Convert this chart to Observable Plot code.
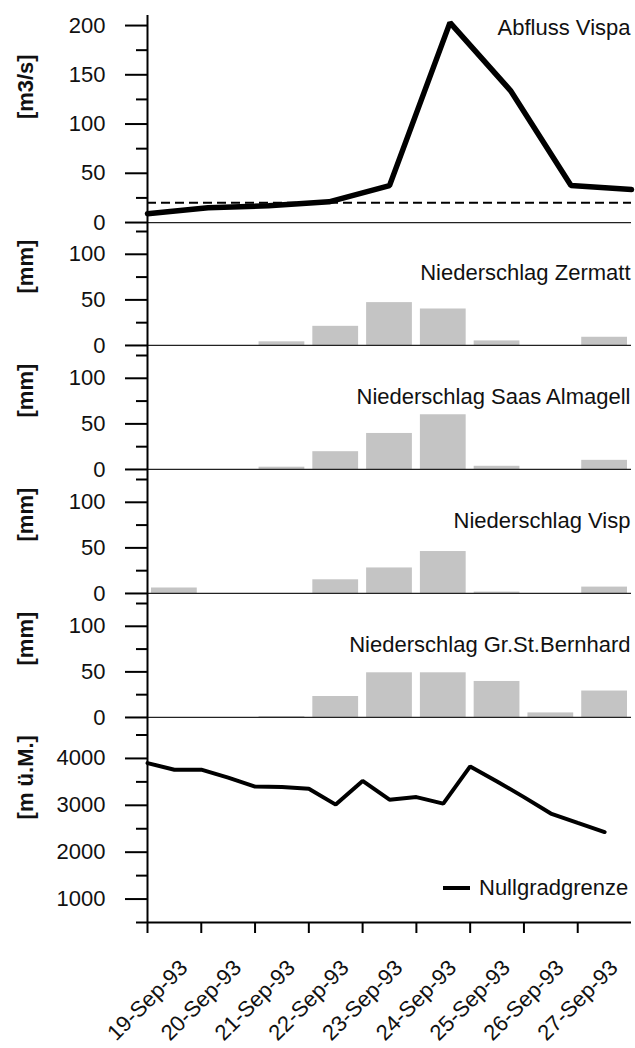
<!DOCTYPE html>
<html><head><meta charset="utf-8">
<script src="https://cdn.jsdelivr.net/npm/d3@7"></script>
<script src="https://cdn.jsdelivr.net/npm/@observablehq/plot@0.6"></script>
<style>
body{margin:0;background:#fff;}
#chart{position:relative;width:635px;height:1048px;font-family:"Liberation Sans",Arial,sans-serif;color:#000;}
#chart svg{display:block;overflow:visible;background:transparent;}
#legend{position:absolute;left:443px;top:876px;height:24px;display:flex;align-items:center;font-size:22px;color:#111;white-space:nowrap;}
#legend .sw{display:inline-block;width:27px;height:4px;background:#000;margin-right:9px;}
</style></head><body><div id="chart"></div>
<script>
// ---- data ----
const days = ["1993-09-19","1993-09-20","1993-09-21","1993-09-22","1993-09-23","1993-09-24","1993-09-25","1993-09-26","1993-09-27"];
const dayLabels = ["19-Sep-93","20-Sep-93","21-Sep-93","22-Sep-93","23-Sep-93","24-Sep-93","25-Sep-93","26-Sep-93","27-Sep-93"];

const abflussTitle = "Abfluss Vispa";
const abflussUnit = "[m3/s]";
const abflussValues = [9, 15, 17, 21, 37.5, 203, 134, 37.5, 33.5];
const abflussReference = 20;

const rainUnit = "[mm]";
const rainZermatt = [0, 0, 4, 21, 47, 40, 5, 0, 9];
const rainSaas = [0, 0, 2.5, 19.5, 39.5, 60, 3.5, 0, 10];
const rainVisp = [6, 0, 0, 15, 28, 46, 1.5, 0, 7];
const rainBernhard = [0, 0, 1, 23, 49, 49, 39.5, 5, 29];
const rainTitles = ["Niederschlag Zermatt", "Niederschlag Saas Almagell", "Niederschlag Visp", "Niederschlag Gr.St.Bernhard"];

const nullTitle = "Nullgradgrenze";
const nullUnit = "[m ü.M.]";
const nullTimes = ["1993-09-19T00:00Z","1993-09-19T12:00Z","1993-09-20T00:00Z","1993-09-20T12:00Z","1993-09-21T00:00Z","1993-09-21T12:00Z","1993-09-22T00:00Z","1993-09-22T12:00Z","1993-09-23T00:00Z","1993-09-23T12:00Z","1993-09-24T00:00Z","1993-09-24T12:00Z","1993-09-25T00:00Z","1993-09-25T12:00Z","1993-09-26T00:00Z","1993-09-26T12:00Z","1993-09-27T00:00Z","1993-09-27T12:00Z"];
const nullValues = [3900, 3760, 3760, 3590, 3400, 3390, 3355, 3015, 3520, 3120, 3175, 3035, 3830, 3510, 3175, 2825, 2625, 2430];

// ---- layout ----
const W = 635, ML = 147, MR = 4;
const FONT = "\"Liberation Sans\", Arial, sans-serif";
const style = {fontFamily: FONT, fontSize: "22px", color: "#000", background: "transparent", overflow: "visible"};
const dayDates = days.map(d => new Date(d + "T00:00Z"));
const xDomain = [dayDates[0], d3.utcDay.offset(dayDates[dayDates.length - 1], 1)];

function yAxes(major, minor, fmt) {
  return [
    Plot.axisY({ticks: major, tickSize: 22, tickPadding: 20, strokeWidth: 2, label: null, tickFormat: fmt || (d => String(d)), fill: "#111"}),
    Plot.axisY({ticks: minor, tickSize: 11, strokeWidth: 2, label: null, tickFormat: () => ""})
  ];
}
function unitLabel(text, yv) {
  return Plot.text([text], {y: yv, frameAnchor: "left", dx: -122, rotate: -90, fontWeight: "bold", fill: "#111", fontSize: 22});
}

const chart = document.getElementById("chart");

// Panel 1: Abfluss
const abflussRows = abflussValues.map((v, i) => ({i, day: dayLabels[i], value: v}));
chart.append(Plot.plot({
  width: W, height: 231, marginLeft: ML, marginRight: MR, marginTop: 15, marginBottom: 0,
  style,
  x: {domain: [0, abflussValues.length - 1], axis: null},
  y: {domain: [-9.1, 210.2], axis: null},
  marks: [
    ...yAxes([0, 50, 100, 150, 200], [25, 75, 125, 175]),
    Plot.ruleY([0], {stroke: "#222", strokeWidth: 1.3}),
    Plot.ruleY([abflussReference], {stroke: "#000", strokeWidth: 2, strokeDasharray: "9,5"}),
    Plot.line(abflussRows, {x: "i", y: "value", stroke: "#000", strokeWidth: 5.5, strokeLinejoin: "miter"}),
    Plot.ruleX([0], {stroke: "#000", strokeWidth: 2}),
    Plot.text([abflussTitle], {x: abflussValues.length - 1, y: 198, textAnchor: "end", dx: -1, fill: "#111", fontSize: 22}),
    unitLabel(abflussUnit, 105)
  ]
}));

// Rain panels
[rainZermatt, rainSaas, rainVisp, rainBernhard].forEach((vals, k) => {
  const rows = vals.map((v, i) => ({start: dayDates[i], end: d3.utcDay.offset(dayDates[i], 1), value: v})).filter(d => d.value > 0);
  chart.append(Plot.plot({
    width: W, height: 124, marginLeft: ML, marginRight: MR, marginTop: 0, marginBottom: 0,
    style,
    x: {type: "utc", domain: xDomain, axis: null},
    y: {domain: [-11, 125], axis: null},
    marks: [
      ...yAxes([0, 50, 100], [25, 75, 125]),
      Plot.rectY(rows, {x1: "start", x2: "end", y: "value", fill: "#c4c4c4", insetLeft: 4, insetRight: 4}),
      Plot.ruleY([0], {stroke: "#222", strokeWidth: 1.3}),
      Plot.ruleX([xDomain[0]], {stroke: "#000", strokeWidth: 2}),
      Plot.text([rainTitles[k]], {x: xDomain[1], y: 79, textAnchor: "end", dx: -1, fill: "#111", fontSize: 22}),
      unitLabel(rainUnit, 57)
    ]
  }));
});

// Nullgradgrenze panel
const nullRows = nullTimes.map((t, i) => ({time: new Date(t), value: nullValues[i]}));
chart.append(Plot.plot({
  width: W, height: 321, marginLeft: ML, marginRight: MR, marginTop: 0, marginBottom: 126,
  style,
  x: {type: "utc", domain: xDomain, axis: null},
  y: {domain: [500, 4660], axis: null},
  marks: [
    ...yAxes([1000, 2000, 3000, 4000], [500, 1500, 2500, 3500, 4500]),
    Plot.line(nullRows, {x: "time", y: "value", stroke: "#000", strokeWidth: 4, strokeLinejoin: "miter"}),
    Plot.ruleX([xDomain[0]], {stroke: "#000", strokeWidth: 2}),
    Plot.ruleY([500], {stroke: "#000", strokeWidth: 2}),
    Plot.axisX({ticks: dayDates, tickSize: 11, strokeWidth: 2, label: null, tickFormat: () => ""}),
    Plot.text(dayDates, {x: d => d, text: (d, i) => dayLabels[i], frameAnchor: "bottom", rotate: -45, dy: 83, dx: 5, fill: "#111", fontSize: 22}),
    unitLabel(nullUnit, 2700)
  ]
}));

// Legend (inside plot area, bottom right)
const legend = document.createElement("div");
legend.id = "legend";
legend.innerHTML = '<span class="sw"></span><span></span>';
legend.lastChild.textContent = nullTitle;
chart.append(legend);
</script></body></html>
